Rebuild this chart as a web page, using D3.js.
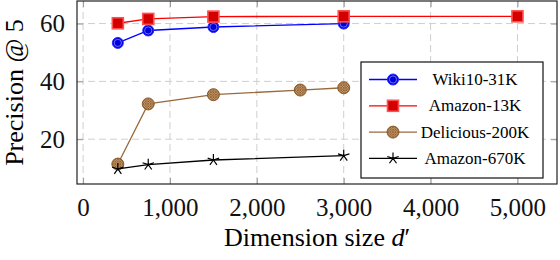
<!DOCTYPE html>
<html>
<head>
<meta charset="utf-8">
<script src="https://cdn.jsdelivr.net/npm/d3@7"></script>
<style>
  body { margin: 0; background: #fff; }
</style>
</head>
<body>
<div class="canvas"></div>
<script>
// data
const dimsWiki = [400, 750, 1500, 3000];
const wiki10 = [53.3, 57.6, 58.8, 60.0];

const dimsAmz13 = [400, 750, 1500, 3000, 5000];
const amazon13 = [60.1, 61.6, 62.4, 62.5, 62.5];

const dimsDel = [400, 750, 1500, 2500, 3000];
const delicious = [11.4, 32.2, 35.4, 37.0, 37.8];

const dimsAmz670 = [400, 750, 1500, 3000];
const amazon670 = [9.7, 11.2, 12.8, 14.3];

const xTicks = [0, 1000, 2000, 3000, 4000, 5000];
const yTicks = [20, 40, 60];

const series = [
    { name: 'Wiki10-31K', xs: dimsWiki, ys: wiki10, color: '#0000ff', mark: 'circle' },
    { name: 'Amazon-13K', xs: dimsAmz13, ys: amazon13, color: '#ff0000', mark: 'square' },
    { name: 'Delicious-200K', xs: dimsDel, ys: delicious, color: '#9a6a3c', mark: 'pattern' },
    { name: 'Amazon-670K', xs: dimsAmz670, ys: amazon670, color: '#000000', mark: 'star' }
];

const serif = "'Liberation Serif', 'DejaVu Serif', serif";
const dims = { width: 560, height: 260 };
const plot = { left: 77, right: 557, top: 1, bottom: 184 };

const svg = d3.select('.canvas')
    .append('svg')
    .attr('width', dims.width)
    .attr('height', dims.height)
    .style('font-family', serif);

const x = d3.scaleLinear().domain([-70, 5455]).range([plot.left, plot.right]);
const y = d3.scaleLinear().domain([4.5, 67.8]).range([plot.bottom, plot.top]);

// pattern for the delicious marker
const defs = svg.append('defs');
const pat = defs.append('pattern')
    .attr('id', 'hatch')
    .attr('patternUnits', 'userSpaceOnUse')
    .attr('width', 2.5).attr('height', 2.5);
pat.append('rect').attr('width', 2.5).attr('height', 2.5).attr('fill', '#c49a6c');
pat.append('path').attr('d', 'M0,0 L2.5,2.5 M2.5,0 L0,2.5')
    .attr('stroke', '#8a5a2c').attr('stroke-width', 0.7);

// grid
const grid = svg.append('g');
grid.selectAll('.vgrid')
    .data(xTicks)
    .enter().append('line')
    .attr('x1', d => x(d)).attr('x2', d => x(d))
    .attr('y1', plot.top).attr('y2', plot.bottom)
    .attr('stroke', '#cfcfcf').attr('stroke-dasharray', '7,4');
grid.selectAll('.hgrid')
    .data(yTicks)
    .enter().append('line')
    .attr('y1', d => y(d)).attr('y2', d => y(d))
    .attr('x1', plot.left).attr('x2', plot.right)
    .attr('stroke', '#cfcfcf').attr('stroke-dasharray', '7,4');

// axes, ticks inside the frame like pgfplots
const xAxisB = d3.axisBottom(x).tickValues(xTicks).tickSize(-6).tickPadding(14)
    .tickFormat(d3.format(','));
const xAxisT = d3.axisTop(x).tickValues(xTicks).tickSize(-6).tickFormat('');
const yAxisL = d3.axisLeft(y).tickValues(yTicks).tickSize(-6).tickPadding(12);
const yAxisR = d3.axisRight(y).tickValues(yTicks).tickSize(-6).tickFormat('');

const styleAxis = g => {
    g.attr('font-family', null).attr('font-size', null);
    g.select('.domain').remove();
    g.selectAll('.tick line').attr('stroke', '#999');
    g.selectAll('.tick text')
        .style('font-family', serif)
        .style('font-size', '25px').attr('fill', '#111');
};

svg.append('g').attr('transform', `translate(0, ${plot.bottom})`).call(xAxisB).call(styleAxis);
svg.append('g').attr('transform', `translate(0, ${plot.top})`).call(xAxisT).call(styleAxis);
svg.append('g').attr('transform', `translate(${plot.left}, 0)`).call(yAxisL).call(styleAxis);
svg.append('g').attr('transform', `translate(${plot.right}, 0)`).call(yAxisR).call(styleAxis);

// frame
svg.append('rect')
    .attr('x', plot.left).attr('y', plot.top)
    .attr('width', plot.right - plot.left).attr('height', plot.bottom - plot.top)
    .attr('fill', 'none').attr('stroke', '#222').attr('stroke-width', 1.2);

// marker drawing
const drawMark = (g, s) => {
    if (s.mark === 'circle') {
        g.append('circle').attr('r', 5.5).attr('fill', '#0000dd').attr('stroke', '#2a2aff').attr('stroke-width', 1);
        g.append('circle').attr('r', 3.6).attr('fill', 'none').attr('stroke', '#9a9aff').attr('stroke-width', 0.7);
    } else if (s.mark === 'square') {
        g.append('rect').attr('x', -5.5).attr('y', -5.5).attr('width', 11).attr('height', 11)
            .attr('fill', '#d40000').attr('stroke', '#ff5050').attr('stroke-width', 1.6);
    } else if (s.mark === 'pattern') {
        g.append('circle').attr('r', 6).attr('fill', 'url(#hatch)').attr('stroke', '#8a5a2c').attr('stroke-width', 1);
    } else {
        const arms = d3.range(5).map(i => {
            const a = -Math.PI / 2 + i * 2 * Math.PI / 5;
            return `M0,0L${6 * Math.cos(a)},${6 * Math.sin(a)}`;
        }).join('');
        g.append('path').attr('d', arms).attr('stroke', '#000').attr('stroke-width', 1.2).attr('fill', 'none');
    }
};

const line = d3.line().x(d => x(d[0])).y(d => y(d[1]));

series.forEach(s => {
    const pts = s.xs.map((v, i) => [v, s.ys[i]]);
    svg.append('path')
        .datum(pts)
        .attr('fill', 'none')
        .attr('stroke', s.color)
        .attr('stroke-width', 1.3)
        .attr('d', line);
    svg.selectAll(null)
        .data(pts)
        .enter().append('g')
        .attr('transform', d => `translate(${x(d[0])}, ${y(d[1])})`)
        .each(function () { drawMark(d3.select(this), s); });
});

// axis labels
svg.append('text')
    .attr('x', (plot.left + plot.right) / 2).attr('y', 246)
    .attr('text-anchor', 'middle')
    .style('font-family', serif).style('font-size', '26px')
    .html('Dimension size <tspan font-style="italic">d</tspan>′');

svg.append('text')
    .attr('transform', `translate(23, ${(plot.top + plot.bottom) / 2}) rotate(-90)`)
    .attr('text-anchor', 'middle')
    .style('font-family', serif).style('font-size', '26px')
    .text('Precision @ 5');

// legend
const legend = svg.append('g').attr('transform', 'translate(361, 62)');
legend.append('rect')
    .attr('width', 182).attr('height', 116)
    .attr('fill', '#fff').attr('stroke', '#111').attr('stroke-width', 1.2);

const entries = legend.selectAll('.entry')
    .data(series)
    .enter().append('g')
    .attr('class', 'entry')
    .attr('transform', (d, i) => `translate(0, ${17.5 + i * 26.3})`);

entries.append('line')
    .attr('x1', 8).attr('x2', 56)
    .attr('stroke', d => d.color).attr('stroke-width', 1.3);
entries.append('g')
    .attr('transform', 'translate(32, 0)')
    .each(function (d) { drawMark(d3.select(this), d); });
entries.append('text')
    .attr('x', 114).attr('dy', '0.33em')
    .attr('text-anchor', 'middle')
    .style('font-family', serif).style('font-size', '17px')
    .text(d => d.name);
</script>
</body>
</html>
